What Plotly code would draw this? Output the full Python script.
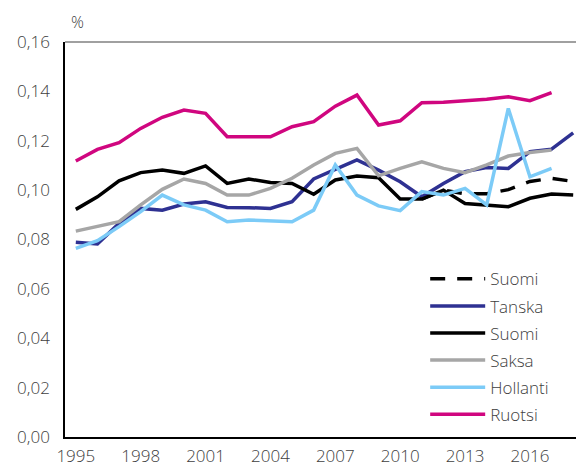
import plotly.graph_objects as go

years = list(range(1995, 2019))

ruotsi = [0.1118, 0.1165, 0.1192, 0.1250, 0.1295, 0.1324, 0.1311, 0.1216, 0.1216, 0.1216,
          0.1257, 0.1277, 0.1340, 0.1385, 0.1264, 0.1281, 0.1354, 0.1356, 0.1362, 0.1368,
          0.1378, 0.1362, 0.1395, None]
suomi = [0.0922, 0.0973, 0.1038, 0.1071, 0.1081, 0.1068, 0.1098, 0.1027, 0.1045, 0.1031,
         0.1027, 0.0983, 0.1041, 0.1057, 0.1050, 0.0964, 0.0964, 0.1000, 0.0946, 0.0940,
         0.0933, 0.0967, 0.0984, 0.0980]
suomi_dash = [None] * 16 + [0.0964, 0.1000, 0.0985, 0.0985, 0.1002, 0.1035, 0.1048, 0.1035]
tanska = [0.0789, 0.0782, 0.0865, 0.0926, 0.0919, 0.0944, 0.0953, 0.0930, 0.0929, 0.0926,
          0.0953, 0.1045, 0.1084, 0.1122, 0.1081, 0.1034, 0.0973, 0.1027, 0.1075, 0.1092,
          0.1088, 0.1156, 0.1166, 0.1232]
saksa = [0.0834, 0.0852, 0.0872, 0.0940, 0.1003, 0.1045, 0.1027, 0.0980, 0.0980, 0.1007,
         0.1048, 0.1102, 0.1149, 0.1169, 0.1058, 0.1088, 0.1115, 0.1088, 0.1071, 0.1102,
         0.1138, 0.1152, 0.1162, None]
hollanti = [0.0764, 0.0795, 0.0852, 0.0913, 0.0980, 0.0940, 0.0919, 0.0872, 0.0879, 0.0876,
            0.0872, 0.0919, 0.1102, 0.0980, 0.0936, 0.0917, 0.0994, 0.0980, 0.1007, 0.0940,
            0.1331, 0.1054, 0.1088, None]

x_ticks = [1995, 1998, 2001, 2004, 2007, 2010, 2013, 2016]
y_ticks = [0, 0.02, 0.04, 0.06, 0.08, 0.10, 0.12, 0.14, 0.16]

_TXT = "#404040"
_FONT = dict(family="Open Sans, Lato, sans-serif", size=17, color=_TXT, weight=300)

series = [
    ("Suomi", suomi_dash, "#000000", "15px,12px"),
    ("Tanska", tanska, "#2E3192", "solid"),
    ("Suomi", suomi, "#000000", "solid"),
    ("Saksa", saksa, "#A6A6A6", "solid"),
    ("Hollanti", hollanti, "#7CCBF7", "solid"),
    ("Ruotsi", ruotsi, "#D0067F", "solid"),
]

fig = go.Figure()
for i, (name, vals, col, dash) in enumerate(series):
    fig.add_trace(go.Scatter(
        x=years, y=vals, name=name, mode="lines", legendgroup=f"g{i}",
        line=dict(color=col, width=3.5, dash=dash),
        connectgaps=False,
    ))

# page body has an 8px margin, so the figure is shrunk by that much
fig.update_layout(
    width=576, height=465,
    paper_bgcolor="white", plot_bgcolor="white",
    margin=dict(l=57, r=0, t=34, b=36),
    font=_FONT,
    separators=", ",
    showlegend=True,
    legend=dict(x=0.694, y=0.445, xanchor="left", yanchor="top",
                bgcolor="rgba(0,0,0,0)", font=_FONT, traceorder="grouped",
                tracegroupgap=2, itemwidth=55),
    xaxis=dict(range=[1994.5, 2018.5], tickvals=x_ticks, showgrid=False,
               zeroline=False, showline=True, linecolor="#000000", linewidth=1.5,
               tickfont=_FONT, ticks="", ticklabelstandoff=3, automargin=False),
    yaxis=dict(range=[0, 0.16], tickvals=y_ticks, tickformat=".2f", showgrid=False,
               zeroline=False, showline=True, linecolor="#000000", linewidth=1.5,
               tickfont=_FONT, ticks="", ticklabelstandoff=10, automargin=False),
    shapes=[dict(type="line", xref="paper", yref="paper", x0=0, x1=1, y0=1, y1=1,
                 line=dict(color="#808080", width=1.5))],
    annotations=[dict(text="%", xref="paper", yref="paper", x=0.025, y=1.05,
                      xanchor="center", yanchor="middle", showarrow=False,
                      font=dict(family="Open Sans, Lato, sans-serif", size=16,
                                color=_TXT, weight=300))],
)

fig.write_html("out.html")
